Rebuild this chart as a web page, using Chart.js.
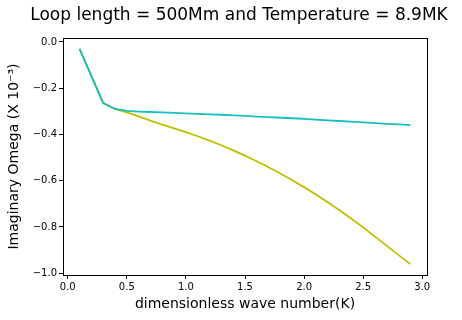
<!DOCTYPE html>
<html>
<head>
<meta charset="utf-8">
<script src="https://cdn.jsdelivr.net/npm/chart.js@4"></script>
<style>
  html, body { margin: 0; padding: 0; background: #fff; }
  #wrap { width: 462px; height: 320px; }
</style>
</head>
<body>
<div id="wrap"><canvas id="omegaChart" width="462" height="320"></canvas></div>
<script>
// dimensionless wave number K
const kValues = [0.1, 0.3, 0.4, 0.5, 0.6, 0.7, 0.8, 0.9, 1.0, 1.1, 1.2, 1.3, 1.4, 1.5,
  1.6, 1.7, 1.8, 1.9, 2.0, 2.1, 2.2, 2.3, 2.4, 2.5, 2.6, 2.7, 2.8, 2.9];

// imaginary omega (x 10^-3)
const omegaCyan = [-0.030, -0.264, -0.290, -0.298, -0.301, -0.303, -0.305, -0.307, -0.309,
  -0.311, -0.313, -0.315, -0.318, -0.320, -0.323, -0.325, -0.328, -0.330, -0.333, -0.336,
  -0.339, -0.342, -0.345, -0.348, -0.351, -0.354, -0.357, -0.360];
const omegaYellow = [-0.030, -0.264, -0.290, -0.305, -0.322, -0.340, -0.358, -0.374, -0.390,
  -0.408, -0.427, -0.447, -0.469, -0.492, -0.516, -0.542, -0.569, -0.598, -0.628, -0.660,
  -0.693, -0.728, -0.765, -0.802, -0.842, -0.882, -0.922, -0.961];

const xTicks = [0.0, 0.5, 1.0, 1.5, 2.0, 2.5, 3.0];
const yTicks = [0.0, -0.2, -0.4, -0.6, -0.8, -1.0];

const chartTitle = 'Loop length = 500Mm and Temperature = 8.9MK';
const FONT = '"DejaVu Sans", sans-serif';

const toPoints = (ys) => kValues.map((k, i) => ({ x: k, y: ys[i] }));
const fmt = (v) => v.toFixed(1).replace('-', '\u2212');

// axes box + title, matplotlib style
const framePlugin = {
  id: 'frame',
  afterDraw(chart) {
    const { ctx, chartArea: a } = chart;
    ctx.save();
    ctx.strokeStyle = '#000';
    ctx.lineWidth = 1;
    ctx.strokeRect(Math.round(a.left) + 0.5, Math.round(a.top) + 0.5,
      Math.round(a.right - a.left), Math.round(a.bottom - a.top));
    ctx.fillStyle = '#000';
    ctx.font = '17px ' + FONT;
    ctx.textAlign = 'center';
    ctx.textBaseline = 'middle';
    ctx.fillText(chartTitle, 239, 16);
    ctx.restore();
  }
};

const ctx = document.getElementById('omegaChart').getContext('2d');
new Chart(ctx, {
  type: 'line',
  data: {
    datasets: [
      {
        label: 'cyan',
        data: toPoints(omegaCyan),
        borderColor: '#17bfbf',
        borderWidth: 1.8,
        pointRadius: 0,
        tension: 0,
      },
      {
        label: 'yellow',
        data: toPoints(omegaYellow),
        borderColor: '#bfbf00',
        borderWidth: 1.8,
        pointRadius: 0,
        tension: 0,
      },
    ],
  },
  options: {
    responsive: false,
    animation: false,
    events: [],
    layout: { padding: { top: 38, right: 35, left: 0, bottom: 0 } },
    plugins: { legend: { display: false }, tooltip: { enabled: false }, title: { display: false } },
    scales: {
      x: {
        type: 'linear',
        min: -0.04,
        max: 3.04,
        afterBuildTicks: (s) => { s.ticks = xTicks.map((v) => ({ value: v })); },
        afterFit: (s) => { s.height = 45; },
        grid: { drawOnChartArea: false, drawTicks: true, tickLength: 4, color: '#000' },
        border: { display: true, color: '#000' },
        ticks: {
          color: '#000',
          padding: 2,
          maxRotation: 0,
          font: { family: FONT, size: 10 },
          callback: (v) => fmt(v),
        },
        title: {
          display: true,
          text: 'dimensionless wave number(K)',
          color: '#000',
          font: { family: FONT, size: 14 },
          padding: { top: 0, bottom: 7 },
        },
      },
      y: {
        type: 'linear',
        min: -1.008,
        max: 0.017,
        afterBuildTicks: (s) => { s.ticks = yTicks.map((v) => ({ value: v })); },
        afterFit: (s) => { s.width = 63; },
        grid: { drawOnChartArea: false, drawTicks: true, tickLength: 4, color: '#000' },
        border: { display: true, color: '#000' },
        ticks: {
          color: '#000',
          padding: 2,
          font: { family: FONT, size: 10 },
          callback: (v) => fmt(v),
        },
        title: {
          display: true,
          text: 'Imaginary Omega (X 10\u207B\u00B3)',
          color: '#000',
          font: { family: FONT, size: 14 },
          padding: { top: 6, bottom: 0 },
        },
      },
    },
  },
  plugins: [framePlugin],
});
</script>
</body>
</html>
